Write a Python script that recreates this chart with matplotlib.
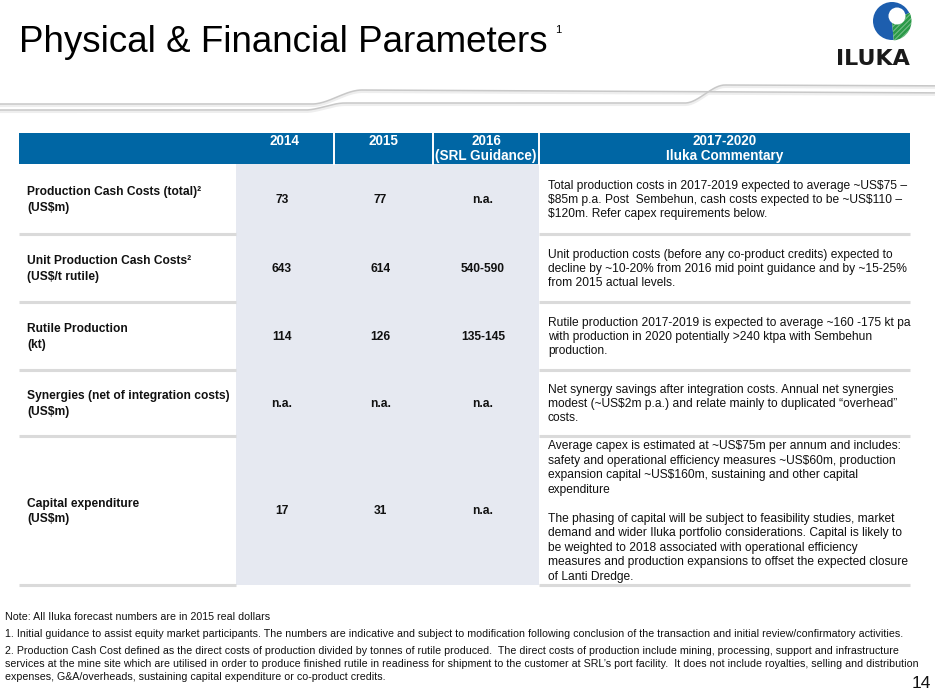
import matplotlib
matplotlib.use('Agg')
import matplotlib.pyplot as plt
import numpy as np
from matplotlib import font_manager
from matplotlib.patches import Rectangle, Wedge, Circle

# ---------------- data ----------------
title = 'Physical & Financial Parameters'
title_sup = '1'
col_headers = [['2014'], ['2015'], ['2016', '(SRL Guidance)']]
comment_header = ['2017-2020', 'Iluka Commentary']
row_labels = [
    ['Production Cash Costs (total)²', '(US$m)'],
    ['Unit Production Cash Costs²', '(US$/t rutile)'],
    ['Rutile Production', '(kt)'],
    ['Synergies (net of integration costs)', '(US$m)'],
    ['Capital expenditure', '(US$m)'],
]
values_2014 = ['73', '643', '114', 'n.a.', '17']
values_2015 = ['77', '614', '126', 'n.a.', '31']
values_2016 = ['n.a.', '540-590', '135-145', 'n.a.', 'n.a.']
commentary = [
    ['Total production costs in 2017-2019 expected to average ~US$75 –',
     '$85m p.a. Post  Sembehun, cash costs expected to be ~US$110 –',
     '$120m. Refer capex requirements below.'],
    ['Unit production costs (before any co-product credits) expected to',
     'decline by ~10-20% from 2016 mid point guidance and by ~15-25%',
     'from 2015 actual levels.'],
    ['Rutile production 2017-2019 is expected to average ~160 -175 kt pa',
     'with production in 2020 potentially >240 ktpa with Sembehun',
     'production.'],
    ['Net synergy savings after integration costs. Annual net synergies',
     'modest (~US$2m p.a.) and relate mainly to duplicated “overhead”',
     'costs.'],
    ['Average capex is estimated at ~US$75m per annum and includes:',
     'safety and operational efficiency measures ~US$60m, production',
     'expansion capital ~US$160m, sustaining and other capital',
     'expenditure',
     '',
     'The phasing of capital will be subject to feasibility studies, market',
     'demand and wider Iluka portfolio considerations. Capital is likely to',
     'be weighted to 2018 associated with operational efficiency',
     'measures and production expansions to offset the expected closure',
     'of Lanti Dredge.'],
]
footnotes = [
    'Note: All Iluka forecast numbers are in 2015 real dollars',
    '1. Initial guidance to assist equity market participants. The numbers are indicative and subject to modification following conclusion of the transaction and initial review/confirmatory activities.',
    '2. Production Cash Cost defined as the direct costs of production divided by tonnes of rutile produced.  The direct costs of production include mining, processing, support and infrastructure',
    'services at the mine site which are utilised in order to produce finished rutile in readiness for shipment to the customer at SRL\u2019s port facility.  It does not include royalties, selling and distribution',
    'expenses, G&A/overheads, sustaining capital expenditure or co-product credits.',
]
page_number = '14'
logo_text = 'ILUKA'

# ---------------- layout / style ----------------
W, H = 935, 695
BLUE = '#0066a4'
SHADE = '#e6e9f1'
SEP = '#dadada'
TXT = '#111111'


def has_font(name):
    try:
        font_manager.findfont(font_manager.FontProperties(family=name), fallback_to_default=False)
        return True
    except Exception:
        return False


SANS = 'Liberation Sans' if has_font('Liberation Sans') else 'DejaVu Sans'
NARROW = 'Liberation Sans Narrow' if has_font('Liberation Sans Narrow') else SANS

fig = plt.figure(figsize=(W / 100, H / 100), dpi=100)
ax = fig.add_axes([0, 0, 1, 1])
ax.set_xlim(0, W)
ax.set_ylim(H, 0)
ax.axis('off')
renderer = fig.canvas.get_renderer()


def txt(x, y, s, **kw):
    return ax.text(x, y, s, parse_math=False, **kw)


def fit(text, target_w, **kw):
    t = txt(0, 0, text, fontsize=10, **kw)
    w = t.get_window_extent(renderer).width
    t.remove()
    return 10 * target_w / w


# title
fs_title = fit(title, 531, family=SANS)
txt(19, 52, title, family=SANS, fontsize=fs_title, color='black', va='baseline', ha='left')
txt(555, 33, title_sup, family=SANS, fontsize=8, color='black', va='baseline', ha='left')

# swoosh decoration
def scurve(x, segs, y0):
    y = np.full_like(x, y0, dtype=float)
    for xa, xb, ya, yb, slope in segs:
        s = np.clip((x - xa) / (xb - xa), 0, 1)
        s = s * s * (3 - 2 * s)
        y = np.where(x >= xa, ya + (yb - ya) * s + np.where(x > xb, slope * (x - xb), 0), y)
    return y

xs = np.linspace(0, W, 800)
y1 = scurve(xs, [(305, 345, 110, 103, 0.0), (685, 725, 103, 85, 0.004)], 110)
y2 = scurve(xs, [(312, 362, 104, 90, 0.005)], 104)
for yy in (y1, y2):
    ax.plot(xs, yy + 1.5, color='#eeeeee', lw=2.2, solid_capstyle='butt', zorder=1)
    ax.plot(xs, yy, color='#c8c8c8', lw=1.1, solid_capstyle='butt', zorder=2)

# logo
cx, cy, r = 892, 21, 19
ax.add_patch(Circle((cx, cy), r, color='#1d5eae', lw=0, zorder=3))
wedge = Wedge((cx, cy), r + 0.5, -25, 85, color='white', lw=0, zorder=4)
ax.add_patch(wedge)
for k in [4, 9, 14, 19, 24, 29]:
    xx = np.array([cx - 10, cx + 25])
    ln, = ax.plot(xx, cy + k - (xx - cx), color='#2b9a48', lw=2.3, zorder=5, solid_capstyle='butt')
    ln.set_clip_path(wedge)
ax.add_patch(Circle((cx + 5, cy - 5), 8.5, color='white', lw=0, zorder=6))
fs_logo = fit(logo_text, 74, family='DejaVu Sans', weight='bold')
txt(910, 65, logo_text, family='DejaVu Sans', weight='bold', fontsize=fs_logo, color='#1a1a1a',
    ha='right', va='baseline')

# table geometry
TL, TR = 19, 910
col_x = [TL, 236, 334, 433, 539, TR]
hdr_top, hdr_bot = 133, 164
row_edges = [164, 234, 302, 370, 436, 585]

# header
ax.add_patch(Rectangle((TL, hdr_top), TR - TL, hdr_bot - hdr_top, color=BLUE, lw=0, zorder=3))
for xv in col_x[2:5]:
    ax.plot([xv, xv], [hdr_top, hdr_bot], color='white', lw=1.4, zorder=4)

# shading for numeric columns
ax.add_patch(Rectangle((col_x[1], row_edges[0]), col_x[4] - col_x[1], row_edges[-1] - row_edges[0],
                       color=SHADE, lw=0, zorder=2))
# separators
for ye in row_edges[1:]:
    ax.plot([TL, col_x[1]], [ye, ye], color=SEP, lw=2.2, zorder=3, solid_capstyle='butt')
    ax.plot([col_x[4], TR], [ye, ye], color=SEP, lw=2.2, zorder=3, solid_capstyle='butt')

fs_bold = fit('Synergies (net of integration costs)', 201, family=SANS, weight='bold')
fs_hdr = fit('(SRL Guidance)', 101, family=SANS, weight='bold')
fs_com = fit(commentary[2][0], 362, family=SANS)
fs_foot = fit(footnotes[1], 888, family=NARROW)

hdr_lines_y = [141, 156]
for i, lines in enumerate(col_headers):
    xc = (col_x[i + 1] + col_x[i + 2]) / 2
    for j, ln in enumerate(lines):
        txt(xc, hdr_lines_y[j], ln, family=SANS, weight='bold', fontsize=fs_hdr, color='white',
            ha='center', va='center', zorder=5)
xc = (col_x[4] + col_x[5]) / 2
for j, ln in enumerate(comment_header):
    txt(xc, hdr_lines_y[j], ln, family=SANS, weight='bold', fontsize=fs_hdr, color='white',
        ha='center', va='center', zorder=5)

# body rows
for r_i in range(len(row_labels)):
    yc = (row_edges[r_i] + row_edges[r_i + 1]) / 2 + 1
    lab = row_labels[r_i]
    for j, ln in enumerate(lab):
        txt(27, yc + (j - (len(lab) - 1) / 2) * 15.5, ln, family=SANS, weight='bold',
            fontsize=fs_bold, color=TXT, ha='left', va='center', zorder=5)
    for c_i, vals in enumerate([values_2014, values_2015, values_2016]):
        xcv = (col_x[c_i + 1] + col_x[c_i + 2]) / 2 - 3
        txt(xcv, yc, vals[r_i], family=SANS, weight='bold', fontsize=fs_bold, color=TXT,
            ha='center', va='center', zorder=5)
    com = commentary[r_i]
    for j, ln in enumerate(com):
        if ln:
            txt(548, yc + (j - (len(com) - 1) / 2) * 14.45, ln, family=SANS, fontsize=fs_com,
                color=TXT, ha='left', va='center', zorder=5)

# footnotes
foot_y = [617, 634, 651, 664, 677]
for ln, yy in zip(footnotes, foot_y):
    txt(5, yy, ln, family=NARROW, fontsize=fs_foot, color=TXT, ha='left', va='center')
txt(921, 684, page_number, family=SANS, fontsize=12.5, color=TXT, ha='center', va='center')

fig.savefig('out.png', dpi=100)
